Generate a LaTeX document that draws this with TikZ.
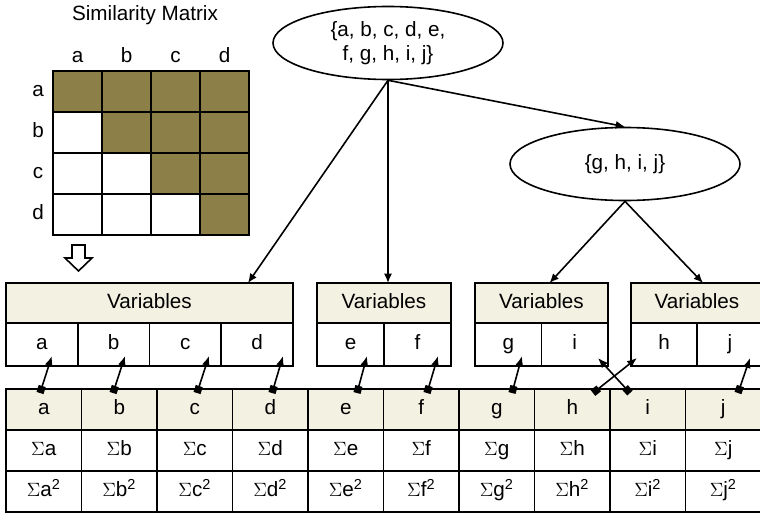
\documentclass[tikz,border=0pt]{standalone}
\usepackage{fontspec}
\setmainfont{Liberation Sans}
\usepackage{xcolor}
\usepackage{tikz}
\usetikzlibrary{shapes.geometric, arrows.meta, positioning, calc}
\definecolor{simfill}{HTML}{8C7F48}
\definecolor{headbg}{HTML}{F3F1E2}
\newdimen\pxu
\pxu=0.75pt

\begin{document}
\begin{tikzpicture}[
  x=0.75pt, y=-0.75pt, line width=1.2pt,
  font=\fontsize{15.5pt}{18pt}\selectfont,
  box/.style={draw, inner sep=0pt, outer sep=0pt, text height=11pt, text depth=3pt},
  cell/.style={box, minimum width=49\pxu, minimum height=41\pxu},
  hdr/.style={box, fill=headbg, minimum height=40\pxu, anchor=north west},
  var/.style={box, minimum height=43\pxu, anchor=north west},
  stat/.style={box, minimum width=75.5\pxu, minimum height=41\pxu, anchor=north west},
  set/.style={draw, ellipse, inner sep=0pt,
    minimum width=230\pxu, minimum height=73\pxu, align=center},
  arrow/.style={-{Latex[length=7pt,width=6pt]}},
  link/.style={{Square[length=5.5pt,width=5.5pt]}-{Latex[length=7.5pt,width=6pt]}}
]
  \useasboundingbox (0,0) rectangle (760,514);

  % similarity matrix
  \node (title) at (145,15) {Similarity Matrix};
  \foreach \c [count=\j] in {a,b,c,d} {
    \node[text height=11pt, text depth=3pt] (col-\c) at (28.5+49*\j,57) {\c};
    \node[text height=11pt, text depth=3pt] (row-\c) at (38,50.5+41*\j) {\c};
  }
  \foreach \r in {1,...,4}
    \foreach \c in {1,...,4} {
      \ifnum\c<\r \def\cellfill{white}\else \def\cellfill{simfill}\fi
      \node[cell, fill=\cellfill] (m-\r-\c) at (28.5+49*\c,50.5+41*\r) {};
    }
  \draw[fill=white] (72,245) -- (85,245) -- (85,258) -- (92,258)
    -- (78.5,271) -- (65,258) -- (72,258) -- cycle;

  % cluster tree
  \node[set] (all) at (388,43) {\{a, b, c, d, e,\\f, g, h, i, j\}};
  \node[set] (sub) at (625,164) {\{g, h, i, j\}};

  % variable groups
  \node[hdr, minimum width=287\pxu] (v1) at (6,283) {Variables};
  \foreach \v [count=\k from 0] in {a,b,c,d}
    \node[var, minimum width=71.75\pxu] (v\v) at (6+71.75*\k,323) {\v};
  \node[hdr, minimum width=134\pxu] (v2) at (317,283) {Variables};
  \node[var, minimum width=67\pxu] (ve) at (317,323) {e};
  \node[var, minimum width=67\pxu] (vf) at (384,323) {f};
  \node[hdr, minimum width=133\pxu] (v3) at (475,283) {Variables};
  \node[var, minimum width=66.5\pxu] (vg) at (475,323) {g};
  \node[var, minimum width=66.5\pxu] (vi) at (541.5,323) {i};
  \node[hdr, minimum width=132\pxu] (v4) at (631,283) {Variables};
  \node[var, minimum width=66\pxu] (vh) at (631,323) {h};
  \node[var, minimum width=66\pxu] (vj) at (697,323) {j};

  % summary table
  \foreach \v [count=\k from 0] in {a,...,j} {
    \node[stat, fill=headbg] (t\v) at (6+75.5*\k,389) {\v};
    \node[stat] (s\v) at (6+75.5*\k,430) {$\Sigma$\v};
    \node[stat] (q\v) at (6+75.5*\k,471) {$\Sigma$\v\textsuperscript{2}};
  }

  \draw[arrow] (all.south) -- ([shift={(-45,0)}]v1.north east);
  \draw[arrow] (all.south) -- (all.south |- v2.north);
  \draw[arrow] (all.south) -- (sub.north);
  \draw[arrow] (sub.south) -- ([shift={(8,0)}]v3.north);
  \draw[arrow] (sub.south) -- ([shift={(6,0)}]v4.north);

  \foreach \v/\dx/\ex/\ey in {a/-3.75/10/-10, b/-6.25/11.4/-10, c/2.25/23.6/-10,
      d/1.75/25.9/-10, e/11.25/16.5/-10, f/5.75/20.5/-10, g/15.25/13.75/-10,
      h/20.75/-27/-8, i/-17.75/23.25/-8, j/14.75/20/-8}
    \draw[link] ([shift={(\dx,4)}]t\v.north) -- ([shift={(\ex,\ey)}]v\v.south);
\end{tikzpicture}
\end{document}
